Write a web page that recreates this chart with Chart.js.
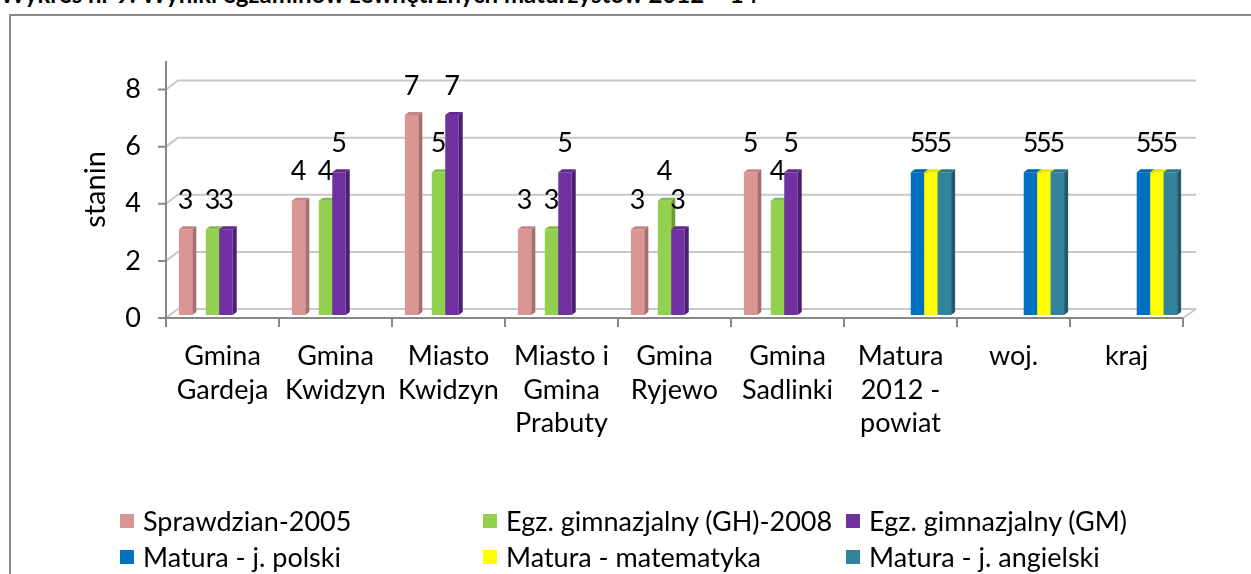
<!DOCTYPE html>
<html lang="pl">
<head>
<meta charset="utf-8">
<script src="https://cdn.jsdelivr.net/npm/chart.js@4.4.1/dist/chart.umd.min.js"></script>
<style>
    html, body { margin: 0; padding: 0; background: #fff; }
    body { width: 1251px; height: 574px; position: relative; overflow: hidden; font-family: Lato, "Open Sans", sans-serif; }
    #tytul { position: absolute; left: 0; top: -21px; font: bold 24px Lato, sans-serif; white-space: nowrap; color: #000; }
    #ramka { position: absolute; left: 9px; top: 14px; width: 1300px; height: 700px; border: 2px solid #8a8a8a; box-sizing: border-box; }
    #wykres { position: absolute; left: 0; top: 0; }
    #legenda { position: absolute; left: 120px; top: 505px; display: grid; grid-template-columns: 363px 363px 363px; row-gap: 5px; font-size: 27px; color: #000; }
    #legenda div { display: flex; align-items: center; height: 31px; white-space: nowrap; }
    #legenda span.kw { width: 14px; height: 14px; margin-right: 9px; display: inline-block; }
</style>
</head>
<body>
<div id="tytul">Wykres nr 9. Wyniki egzaminów zewnętrznych maturzystów 2012 – 14</div>
<div id="ramka"></div>
<canvas id="wykres" width="1251" height="574"></canvas>
<div id="legenda"></div>
<script>
// Dane
const kategorie = [
    ['Gmina', 'Gardeja'],
    ['Gmina', 'Kwidzyn'],
    ['Miasto', 'Kwidzyn'],
    ['Miasto i', 'Gmina', 'Prabuty'],
    ['Gmina', 'Ryjewo'],
    ['Gmina', 'Sadlinki'],
    ['Matura', '2012 -', 'powiat'],
    ['woj.'],
    ['kraj']
];
const sprawdzian2005 = [3, 4, 7, 3, 3, 5, null, null, null];
const pustaSeria = [null, null, null, null, null, null, null, null, null];
const gimnazjalnyGH = [3, 4, 5, 3, 4, 4, null, null, null];
const gimnazjalnyGM = [3, 5, 7, 5, 3, 5, null, null, null];
const maturaPolski = [null, null, null, null, null, null, 5, 5, 5];
const maturaMatematyka = [null, null, null, null, null, null, 5, 5, 5];
const maturaAngielski = [null, null, null, null, null, null, 5, 5, 5];
const yTicks = [0, 2, 4, 6, 8];

const czcionka = 'Lato';

// kolory: przód, bok, góra
const kolory = {
    pink:   ['#d99694', '#a66f6e', '#c88584'],
    green:  ['#92d050', '#6c9c3a', '#84bd48'],
    purple: ['#7030a0', '#4d1f70', '#632a8e'],
    blue:   ['#0070c0', '#00508a', '#0064ad'],
    yellow: ['#ffff00', '#bdbd00', '#e6e600'],
    teal:   ['#31849b', '#215a6a', '#2c778c']
};

const zbiory = [
    { label: 'Sprawdzian-2005', data: sprawdzian2005, backgroundColor: kolory.pink[0], kol: kolory.pink },
    { label: '', data: pustaSeria, backgroundColor: 'transparent', kol: null },
    { label: 'Egz. gimnazjalny (GH)-2008', data: gimnazjalnyGH, backgroundColor: kolory.green[0], kol: kolory.green },
    { label: 'Egz. gimnazjalny (GM)', data: gimnazjalnyGM, backgroundColor: kolory.purple[0], kol: kolory.purple },
    { label: 'Matura - j. polski', data: maturaPolski, backgroundColor: kolory.blue[0], kol: kolory.blue },
    { label: 'Matura - matematyka', data: maturaMatematyka, backgroundColor: kolory.yellow[0], kol: kolory.yellow },
    { label: 'Matura - j. angielski', data: maturaAngielski, backgroundColor: kolory.teal[0], kol: kolory.teal }
];

const GLEB_X = 4, GLEB_Y = 3;      // głębokość słupka
const SCIANA_X = 12, SCIANA_Y = 9; // głębokość ściany wykresu
const PRZES_X = 3.5, PRZES_Y = -3; // słupki stoją w środku podłogi

// Efekt 3D: siatka, osie, słupki z bokiem i górą
const trojwymiar = {
    id: 'trojwymiar',
    beforeDatasetsDraw(chart) {
        const { ctx, chartArea: a, scales: { x, y } } = chart;
        const yDol = y.getPixelForValue(0);
        ctx.save();
        ctx.lineCap = 'butt';

        // siatka na ścianie
        ctx.lineWidth = 2;
        ctx.strokeStyle = '#c8c8c8';
        yTicks.forEach(v => {
            const py = y.getPixelForValue(v);
            ctx.beginPath();
            ctx.moveTo(a.left, py);
            ctx.lineTo(a.left + SCIANA_X, py - SCIANA_Y);
            ctx.lineTo(a.right + SCIANA_X + 1, py - SCIANA_Y);
            ctx.stroke();
        });
        ctx.beginPath();
        ctx.moveTo(a.right, yDol);
        ctx.lineTo(a.right + SCIANA_X + 1, yDol - SCIANA_Y);
        ctx.stroke();

        // osie
        ctx.strokeStyle = '#878787';
        ctx.beginPath();
        ctx.moveTo(a.left, a.top);
        ctx.lineTo(a.left, yDol + 9);
        ctx.moveTo(a.left, yDol);
        ctx.lineTo(a.right, yDol);
        yTicks.forEach(v => {
            const py = y.getPixelForValue(v);
            ctx.moveTo(a.left - 8, py);
            ctx.lineTo(a.left, py);
        });
        const krok = x.getPixelForValue(1) - x.getPixelForValue(0);
        for (let i = 0; i < kategorie.length; i++) {
            const px = x.getPixelForValue(i) + krok / 2;
            ctx.moveTo(px, yDol);
            ctx.lineTo(px, yDol + 9);
        }
        ctx.stroke();

        // słupki
        ctx.translate(PRZES_X, PRZES_Y);
        chart.data.datasets.forEach((ds, i) => {
            if (!ds.kol) return;
            const meta = chart.getDatasetMeta(i);
            meta.data.forEach((bar, j) => {
                if (ds.data[j] == null) return;
                const p = bar.getProps(['x', 'y', 'base', 'width'], true);
                const x0 = p.x - p.width / 2, x1 = p.x + p.width / 2;
                bar.draw(ctx);
                ctx.fillStyle = ds.kol[1];
                ctx.beginPath();
                ctx.moveTo(x1, p.y);
                ctx.lineTo(x1 + GLEB_X, p.y - GLEB_Y);
                ctx.lineTo(x1 + GLEB_X, p.base - GLEB_Y);
                ctx.lineTo(x1, p.base);
                ctx.closePath();
                ctx.fill();
                ctx.fillStyle = ds.kol[2];
                ctx.beginPath();
                ctx.moveTo(x0, p.y);
                ctx.lineTo(x0 + GLEB_X, p.y - GLEB_Y);
                ctx.lineTo(x1 + GLEB_X, p.y - GLEB_Y);
                ctx.lineTo(x1, p.y);
                ctx.closePath();
                ctx.fill();
            });
        });
        ctx.restore();
        return false;
    },
    afterDraw(chart) {
        // etykiety wartości
        const { ctx } = chart;
        ctx.save();
        ctx.font = '27px ' + czcionka;
        ctx.fillStyle = '#000';
        ctx.textAlign = 'center';
        ctx.textBaseline = 'middle';
        chart.data.datasets.forEach((ds, i) => {
            if (!ds.kol) return;
            chart.getDatasetMeta(i).data.forEach((bar, j) => {
                if (ds.data[j] == null) return;
                ctx.fillText(String(ds.data[j]), bar.x + PRZES_X, bar.y + PRZES_Y - 29);
            });
        });
        ctx.restore();
    }
};

const ctx = document.getElementById('wykres').getContext('2d');
const wykres = new Chart(ctx, {
    type: 'bar',
    data: { labels: kategorie, datasets: zbiory },
    options: {
        responsive: false,
        animation: false,
        events: [],
        categoryPercentage: 0.834,
        barPercentage: 1.0,
        layout: { padding: { left: 74, top: 61, right: 68, bottom: 0 } },
        plugins: {
            legend: { display: false },
            tooltip: { enabled: false }
        },
        scales: {
            x: {
                offset: true,
                grid: { display: false, drawTicks: false },
                border: { display: false },
                ticks: {
                    color: '#000',
                    font: { family: czcionka, size: 27, lineHeight: '33.5px' },
                    padding: 22,
                    maxRotation: 0,
                    autoSkip: false
                },
                afterFit: s => { s.height = 256; }
            },
            y: {
                min: 0,
                max: 9,
                grid: { display: false, drawTicks: false },
                border: { display: false },
                ticks: {
                    stepSize: 1,
                    color: '#000',
                    font: { family: czcionka, size: 27 },
                    padding: 25,
                    callback: v => yTicks.includes(v) ? v : ''
                },
                title: {
                    display: true,
                    text: 'stanin',
                    color: '#000',
                    font: { family: czcionka, size: 29 },
                    padding: { top: 4, bottom: 0 }
                },
                afterFit: s => { s.width = 92; }
            }
        }
    },
    plugins: [trojwymiar]
});

// Legenda w trzech kolumnach, jak w oryginale
const legenda = document.getElementById('legenda');
zbiory.filter(ds => ds.kol).forEach(ds => {
    const el = document.createElement('div');
    el.innerHTML = '<span class="kw" style="background:' + ds.backgroundColor + '"></span>' + ds.label;
    legenda.appendChild(el);
});
</script>
</body>
</html>
